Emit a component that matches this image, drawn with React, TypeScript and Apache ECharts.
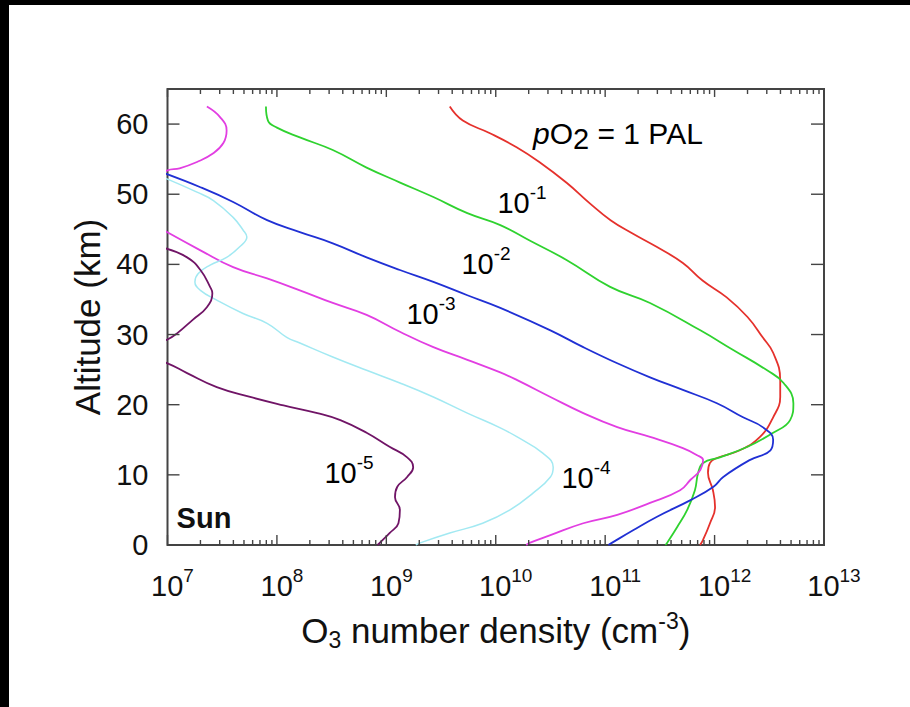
import React, { useEffect, useRef } from 'react';
import * as echarts from 'echarts';

const FONT = '"Liberation Sans", Arial, Helvetica, sans-serif';

// X axis: O3 number density (cm^-3), log scale
const X_MIN = 1e7;
const X_MAX = 1e13;
// Y axis: altitude (km)
const Y_MIN = 0;
const Y_MAX = 65;
const Y_INTERVAL = 10;

// tick values
const X_MAJOR = [1e7, 1e8, 1e9, 1e10, 1e11, 1e12, 1e13];
const DECADES = [1e7, 1e8, 1e9, 1e10, 1e11, 1e12];
const MINOR_MULT = [2, 3, 4, 5, 6, 7, 8, 9];
const Y_MAJOR = [0, 10, 20, 30, 40, 50, 60];

// pO2 = 1 PAL (red)
const alt_1 = [62.5, 60.5, 58.7, 56.7, 54.6, 51.6, 48.7, 46.3, 44.4, 42.5, 40.2, 37.7, 35.3, 32.5, 29.6, 27.4, 23.5, 21.1, 18.2, 15.4, 13.5, 12.4, 11.7, 10.3, 7.8, 5.4, 3.1, 0.7, 0];
const dens_1 = [3.8e9, 5.0e9, 8.85e9, 1.55e10, 2.5e10, 4.47e10, 7.24e10, 1.12e11, 1.78e11, 2.95e11, 5.13e11, 7.76e11, 1.29e12, 2.0e12, 2.75e12, 3.43e12, 3.98e12, 3.98e12, 3.43e12, 2.6e12, 1.7e12, 1.05e12, 9.08e11, 8.7e11, 9.66e11, 1.01e12, 9.08e11, 7.83e11, 7.36e11];

// pO2 = 1e-1 PAL (green)
const alt_m1 = [62.5, 60.5, 59.5, 58.1, 56.3, 53.8, 51.7, 49.6, 47.3, 45.6, 43.4, 40.6, 36.8, 34.5, 30.6, 27.8, 24.9, 23.1, 20.2, 17.8, 16.0, 14.0, 12.5, 11.7, 10.3, 7.8, 5.0, 2.6, 0.3, 0];
const dens_m1 = [7.94e7, 8.28e7, 1.0e8, 1.62e8, 3.24e8, 6.6e8, 1.32e9, 2.69e9, 5.5e9, 1.1e10, 2.04e10, 4.47e10, 1.11e11, 2.57e11, 7.41e11, 1.48e12, 3.02e12, 4.27e12, 5.25e12, 4.9e12, 3.43e12, 2.0e12, 1.12e12, 7.85e11, 7.08e11, 6.61e11, 5.62e11, 4.57e11, 3.68e11, 3.55e11];

// pO2 = 1e-2 PAL (blue)
const alt_m2 = [53.1, 51.0, 48.9, 46.3, 44.6, 43.0, 41.0, 39.2, 37.5, 35.6, 33.8, 30.6, 28.2, 25.9, 23.9, 22.1, 20.2, 18.2, 16.8, 15.0, 13.5, 12.1, 9.7, 8.3, 6.4, 4.0, 2.1, 0.3, 0];
const dens_m2 = [9.0e6, 2.0e7, 3.98e7, 8.13e7, 1.62e8, 3.24e8, 6.6e8, 1.33e9, 2.69e9, 5.5e9, 1.1e10, 3.16e10, 6.31e10, 1.29e11, 2.57e11, 5.13e11, 1.05e12, 1.82e12, 2.75e12, 3.43e12, 3.24e12, 2.09e12, 1.2e12, 9.77e11, 6.03e11, 2.95e11, 1.8e11, 1.15e11, 1.07e11];

// pO2 = 1e-3 PAL (magenta)
const alt_m3 = [62.5, 61.0, 59.1, 57.3, 55.8, 54.6, 53.7, 53.4, 49.0, 45.0, 42.0, 39.6, 38.0, 36.3, 34.5, 32.8, 30.4, 28.2, 26.4, 24.6, 23.5, 21.1, 18.8, 16.8, 15.4, 13.8, 12.8, 12.1, 10.7, 9.3, 7.8, 6.0, 4.3, 3.1, 1.4, 0.3, 0];
const dens_m3 = [2.29e7, 3.02e7, 3.47e7, 3.24e7, 2.6e7, 1.86e7, 1.29e7, 1.0e7, 3.16e6, 8.9e6, 2.0e7, 3.98e7, 8.13e7, 1.62e8, 3.24e8, 6.6e8, 1.33e9, 2.69e9, 5.5e9, 1.1e10, 1.57e10, 3.16e10, 6.31e10, 1.29e11, 2.57e11, 5.13e11, 6.92e11, 7.85e11, 7.41e11, 6.03e11, 4.84e11, 2.57e11, 1.29e11, 6.31e10, 3.16e10, 2.04e10, 1.9e10];

// pO2 = 1e-4 PAL (cyan)
const alt_m4 = [52.3, 50.3, 49.1, 46.7, 44.9, 43.9, 42.5, 41.0, 39.9, 38.7, 37.5, 36.3, 34.9, 33.0, 31.6, 29.6, 28.8, 26.8, 24.9, 23.1, 21.1, 18.8, 16.7, 15.4, 13.1, 11.1, 9.7, 7.4, 5.0, 3.1, 1.7, 0.3, 0];
const dens_m4 = [9.5e6, 1.86e7, 2.63e7, 3.98e7, 4.9e7, 5.31e7, 4.57e7, 3.47e7, 2.45e7, 1.91e7, 1.78e7, 2.0e7, 2.82e7, 4.9e7, 8.13e7, 1.23e8, 1.62e8, 3.24e8, 6.6e8, 1.33e9, 2.69e9, 5.5e9, 1.1e10, 1.57e10, 2.69e10, 3.35e10, 3.16e10, 2.19e10, 1.35e10, 7.59e9, 3.8e9, 2.04e9, 1.86e9];

// pO2 = 1e-5 PAL (dark purple)
const alt_m5 = [42.3, 41.0, 39.2, 36.8, 35.9, 33.9, 32.1, 30.2, 29.3, 27.5, 25.9, 24.5, 22.5, 21.1, 19.9, 18.8, 17.8, 16.0, 14.0, 12.5, 11.1, 9.7, 8.3, 6.8, 5.0, 3.1, 1.7, 0.3, 0];
const dens_m5 = [9.5e6, 1.51e7, 2.0e7, 2.45e7, 2.57e7, 2.29e7, 1.7e7, 1.23e7, 1.0e7, 5.0e6, 1.0e7, 1.51e7, 2.82e7, 5.69e7, 1.15e8, 2.34e8, 3.8e8, 6.6e8, 1.07e9, 1.55e9, 1.76e9, 1.55e9, 1.26e9, 1.2e9, 1.33e9, 1.29e9, 1.07e9, 8.7e8, 8.3e8];

const SERIES = [
  { name: '1 PAL', color: '#e5312c', width: 1.8, alts: alt_1, dens: dens_1 },
  { name: '1e-1', color: '#2fd22f', width: 1.8, alts: alt_m1, dens: dens_m1 },
  { name: '1e-2', color: '#2030d4', width: 1.8, alts: alt_m2, dens: dens_m2 },
  { name: '1e-3', color: '#e23ee2', width: 1.8, alts: alt_m3, dens: dens_m3 },
  { name: '1e-4', color: '#a2e9f2', width: 1.5, alts: alt_m4, dens: dens_m4 },
  { name: '1e-5', color: '#701466', width: 1.8, alts: alt_m5, dens: dens_m5 },
];

const TICK_COLOR = '#444';
const TEXT_COLOR = '#111';

const supRich = {
  b: { fontSize: 29, fontFamily: FONT, color: TEXT_COLOR, lineHeight: 40 },
  s: { fontSize: 19, fontFamily: FONT, color: TEXT_COLOR, lineHeight: 20, verticalAlign: 'top' as const },
  p1: { width: 10 },
  p2: { width: 20 },
};

function annot(x: number, y: number, exp: string) {
  return {
    type: 'text',
    x,
    y,
    style: {
      text: `{b|10}{s|${exp}}`,
      rich: supRich,
      align: 'center',
      verticalAlign: 'middle',
    },
  };
}

export default function App() {
  const ref = useRef<HTMLDivElement>(null);

  useEffect(() => {
    if (!ref.current) return;
    const chart = echarts.init(ref.current, undefined, { renderer: 'svg' });

    const xTicks: number[][] = [];
    X_MAJOR.forEach((v) => xTicks.push([v, 1]));
    DECADES.forEach((d) => MINOR_MULT.forEach((m) => xTicks.push([m * d, 0])));
    const yTicks: number[][] = Y_MAJOR.map((v) => [X_MIN, v]);

    const lineSeries = SERIES.map((s) => ({
      type: 'line',
      name: s.name,
      data: s.alts.map((a, i) => [s.dens[i], a]),
      showSymbol: false,
      symbol: 'none',
      smooth: 0.45,
      clip: true,
      lineStyle: { color: s.color, width: s.width },
      itemStyle: { color: s.color },
      z: 3,
    }));

    const tickStyle = { stroke: TICK_COLOR, lineWidth: 1.4 };

    const option: any = {
      animation: false,
      backgroundColor: '#ffffff',
      grid: {
        show: true,
        left: 167.5,
        right: 86,
        top: 89,
        bottom: 162,
        borderColor: TICK_COLOR,
        borderWidth: 2,
        backgroundColor: 'transparent',
        containLabel: false,
        outerBoundsMode: 'none',
      },
      xAxis: {
        type: 'log',
        logBase: 10,
        min: X_MIN,
        max: X_MAX,
        position: 'bottom',
        axisLine: { show: false, onZero: false },
        axisTick: { show: false },
        splitLine: { show: false },
        axisLabel: {
          margin: 21,
          formatter: (v: number) => {
            const e = Math.round(Math.log10(v));
            const pad = String(e).length > 1 ? 'p2' : 'p1';
            return `{${pad}|}{b|10}{s|${e}}`;
          },
          rich: supRich,
        },
        name: '{b|O}{sub|3}{b| number density (cm}{sup|-3}{b|)}',
        nameLocation: 'middle',
        nameGap: 64,
        nameTextStyle: {
          rich: {
            b: { fontSize: 35, fontFamily: FONT, color: TEXT_COLOR, lineHeight: 42 },
            sub: { fontSize: 23, fontFamily: FONT, color: TEXT_COLOR, lineHeight: 22, verticalAlign: 'bottom' },
            sup: { fontSize: 23, fontFamily: FONT, color: TEXT_COLOR, lineHeight: 22, verticalAlign: 'top' },
          },
        },
      },
      yAxis: {
        type: 'value',
        min: Y_MIN,
        max: Y_MAX,
        interval: Y_INTERVAL,
        position: 'left',
        axisLine: { show: false, onZero: false },
        axisTick: { show: false },
        splitLine: { show: false },
        axisLabel: {
          margin: 19,
          fontSize: 29,
          fontFamily: FONT,
          color: TEXT_COLOR,
          showMaxLabel: false,
          formatter: (v: number) => (v % Y_INTERVAL === 0 ? String(v) : ''),
        },
        name: 'Altitude (km)',
        nameLocation: 'middle',
        nameGap: 57,
        nameTextStyle: { fontSize: 35, fontFamily: FONT, color: TEXT_COLOR },
      },
      series: [
        ...lineSeries,
        {
          type: 'custom',
          name: 'xTicks',
          silent: true,
          clip: false,
          data: xTicks,
          renderItem: (params: any, api: any) => {
            const v = api.value(0);
            const major = api.value(1) === 1;
            const pb = api.coord([v, Y_MIN]);
            const pt = api.coord([v, Y_MAX]);
            const lb = major ? 10 : 5;
            const lt = major ? 8 : 5;
            return {
              type: 'group',
              children: [
                { type: 'line', shape: { x1: pb[0], y1: pb[1], x2: pb[0], y2: pb[1] - lb }, style: tickStyle },
                { type: 'line', shape: { x1: pt[0], y1: pt[1], x2: pt[0], y2: pt[1] + lt }, style: tickStyle },
              ],
            };
          },
          z: 4,
        },
        {
          type: 'custom',
          name: 'yTicks',
          silent: true,
          clip: false,
          data: yTicks,
          renderItem: (params: any, api: any) => {
            const v = api.value(1);
            const pl = api.coord([X_MIN, v]);
            const pr = api.coord([X_MAX, v]);
            return {
              type: 'group',
              children: [
                { type: 'line', shape: { x1: pl[0], y1: pl[1], x2: pl[0] + 12, y2: pl[1] }, style: tickStyle },
                { type: 'line', shape: { x1: pr[0], y1: pr[1], x2: pr[0] - 13, y2: pr[1] }, style: tickStyle },
              ],
            };
          },
          z: 4,
        },
      ],
      graphic: [
        { type: 'rect', shape: { x: 0, y: 0, width: 910, height: 5 }, style: { fill: '#000' } },
        { type: 'rect', shape: { x: 0, y: 0, width: 9, height: 707 }, style: { fill: '#000' } },
        {
          type: 'text',
          x: 533,
          y: 133,
          style: {
            text: '{i|p}{b|O}{sub|2}{b| = 1 PAL}',
            rich: {
              i: { fontSize: 30, fontFamily: FONT, fontStyle: 'italic', color: TEXT_COLOR, lineHeight: 40 },
              b: { fontSize: 30, fontFamily: FONT, color: TEXT_COLOR, lineHeight: 40 },
              sub: { fontSize: 29, fontFamily: FONT, color: TEXT_COLOR, lineHeight: 34, verticalAlign: 'bottom' },
            },
            align: 'left',
            verticalAlign: 'middle',
          },
        },
        annot(522, 203, '-1'),
        annot(486, 264, '-2'),
        annot(431, 314, '-3'),
        annot(586, 478, '-4'),
        annot(349, 473, '-5'),
        {
          type: 'text',
          x: 204,
          y: 518,
          style: {
            text: 'Sun',
            fontSize: 29,
            fontWeight: 'bold',
            fontFamily: FONT,
            fill: TEXT_COLOR,
            align: 'center',
            verticalAlign: 'middle',
          },
        },
      ],
    };

    chart.setOption(option);
    return () => chart.dispose();
  }, []);

  return (
    <div
      ref={ref}
      style={{ position: 'fixed', left: 0, top: 0, width: 910, height: 707, background: '#fff' }}
    />
  );
}
